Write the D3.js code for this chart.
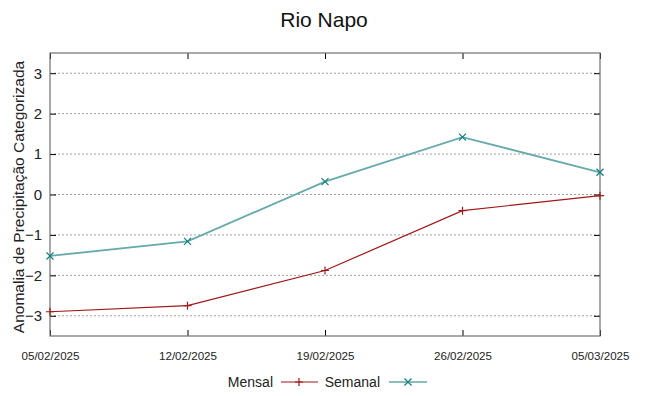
<!DOCTYPE html>
<html><head><meta charset="utf-8">
<script src="https://cdn.jsdelivr.net/npm/d3@7"></script>
<style>body{margin:0;background:#fff}</style>
</head><body>
<script>
const dates = ["05/02/2025","12/02/2025","19/02/2025","26/02/2025","05/03/2025"];
const mensal = [-2.9, -2.75, -1.88, -0.4, -0.03];
const semanal = [-1.52, -1.16, 0.32, 1.42, 0.55];
const yTicks = [-3,-2,-1,0,1,2,3];

const W=648,H=396, L=50,R=600,T=53,B=336;
const svg=d3.select("body").append("svg").attr("width",W).attr("height",H).style("font-family","Liberation Sans, Arial, sans-serif");
const x=d3.scalePoint().domain(dates).range([L,R]);
const y=d3.scaleLinear().domain([-3.5,3.5]).range([B,T]);

// grid
svg.append("g").selectAll("line").data(yTicks).join("line")
  .attr("x1",L).attr("x2",R).attr("y1",d=>y(d)).attr("y2",d=>y(d))
  .attr("stroke","#a0a0a0").attr("stroke-width",1).attr("stroke-dasharray","2,2");

// axes
const ax=(g)=>g.selectAll(".domain").remove();
svg.append("g").attr("transform",`translate(${L},0)`).call(d3.axisLeft(y).tickValues(yTicks).tickSize(-6).tickPadding(8).tickFormat(d3.format("d")))
  .call(ax).call(g=>g.selectAll("text").attr("font-size",15).attr("fill","#222").style("font-family","Liberation Sans, Arial, sans-serif"));
svg.append("g").attr("transform",`translate(${R},0)`).call(d3.axisRight(y).tickValues(yTicks).tickSize(-6).tickFormat(""))
  .call(ax);
svg.append("g").attr("transform",`translate(0,${B})`).call(d3.axisBottom(x).tickSize(-6).tickPadding(16))
  .call(ax).call(g=>g.selectAll("text").attr("font-size",11).attr("fill","#222").attr("textLength",58).attr("lengthAdjust","spacingAndGlyphs").style("font-family","Liberation Sans, Arial, sans-serif"));
svg.append("g").attr("transform",`translate(0,${T})`).call(d3.axisTop(x).tickSize(-6).tickFormat(""))
  .call(ax);
svg.selectAll(".tick line").attr("stroke","#000");
svg.append("rect").attr("x",L).attr("y",T).attr("width",R-L).attr("height",B-T).attr("fill","none").attr("stroke","#707070").attr("stroke-width",1.2);

// lines
const line=d3.line().x((d,i)=>x(dates[i])).y(d=>y(d));
svg.append("path").datum(mensal).attr("d",line).attr("fill","none").attr("stroke","#a01818").attr("stroke-width",1.2);
svg.append("path").datum(semanal).attr("d",line).attr("fill","none").attr("stroke","#66aaaa").attr("stroke-width",1.8);

const plus=(g,cx,cy,c)=>{g.append("path").attr("d",`M${cx-4},${cy}H${cx+4}M${cx},${cy-4}V${cy+4}`).attr("stroke",c).attr("stroke-width",1.2);};
const cross=(g,cx,cy,c)=>{g.append("path").attr("d",`M${cx-3.5},${cy-3.5}L${cx+3.5},${cy+3.5}M${cx-3.5},${cy+3.5}L${cx+3.5},${cy-3.5}`).attr("stroke",c).attr("stroke-width",1.2);};
const mg=svg.append("g");
mensal.forEach((v,i)=>plus(mg,x(dates[i]),y(v),"#a01818"));
semanal.forEach((v,i)=>cross(mg,x(dates[i]),y(v),"#117f7f"));

// title
svg.append("text").attr("x",324).attr("y",27).attr("text-anchor","middle").attr("font-size",21).attr("fill","#111").text("Rio Napo");
// y label
svg.append("text").attr("transform","translate(24,197) rotate(-90)").attr("text-anchor","middle").attr("font-size",15.5).attr("fill","#222").text("Anomalia de Precipitação Categorizada");

// legend
const ly=382;
svg.append("text").attr("x",273).attr("y",ly+5).attr("text-anchor","end").attr("font-size",14).attr("fill","#222").text("Mensal");
svg.append("line").attr("x1",281).attr("x2",318).attr("y1",ly).attr("y2",ly).attr("stroke","#a01818").attr("stroke-width",1.2);
plus(svg,299,ly,"#a01818");
svg.append("text").attr("x",380).attr("y",ly+5).attr("text-anchor","end").attr("font-size",14).attr("fill","#222").text("Semanal");
svg.append("line").attr("x1",389).attr("x2",427).attr("y1",ly).attr("y2",ly).attr("stroke","#117f7f").attr("stroke-width",1.2);
cross(svg,408,ly,"#117f7f");
</script>
</body></html>
